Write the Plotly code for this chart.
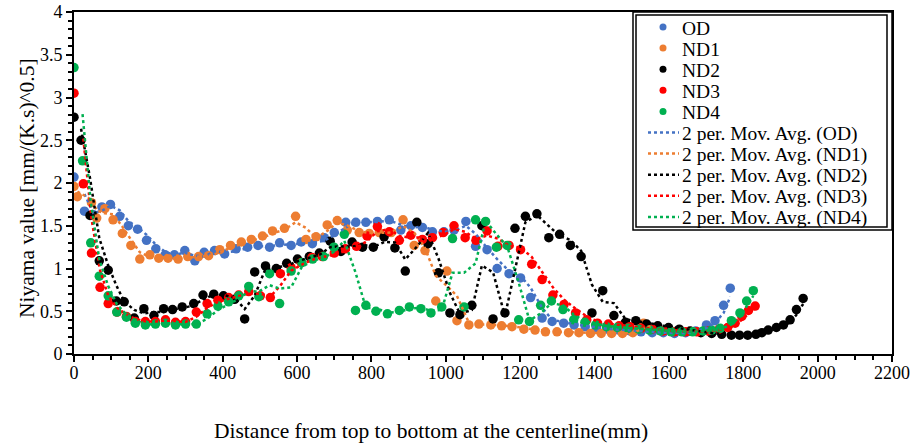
import plotly.graph_objects as go

# ---------------- data ----------------
od_x = [0, 28, 52, 75, 98, 123, 146, 171, 195, 220, 245, 270, 298, 325, 350, 378, 405, 436, 467, 495,
        526, 553, 584, 611, 641, 673, 700, 731, 758, 785, 816, 848, 879, 906, 937, 964, 995, 1022, 1054,
        1080, 1111, 1138, 1170, 1201, 1228, 1259, 1286, 1317, 1345, 1375, 1405, 1435, 1465, 1495, 1525,
        1555, 1585, 1615, 1645, 1672, 1701, 1724, 1747, 1765]
od_y = [2.07, 1.67, 1.63, 1.72, 1.75, 1.61, 1.50, 1.46, 1.33, 1.23, 1.16, 1.16, 1.21, 1.09, 1.19, 1.21,
        1.17, 1.23, 1.25, 1.27, 1.25, 1.30, 1.27, 1.31, 1.29, 1.36, 1.42, 1.54, 1.54, 1.54, 1.55, 1.57,
        1.45, 1.50, 1.48, 1.43, 1.43, 1.45, 1.55, 1.26, 1.22, 1.00, 0.94, 0.89, 0.66, 0.42, 0.38, 0.36,
        0.34, 0.32, 0.30, 0.29, 0.28, 0.27, 0.26, 0.25, 0.25, 0.24, 0.25, 0.27, 0.34, 0.39, 0.57, 0.77]

nd1_x = [0, 9, 47, 61, 83, 105, 130, 153, 177, 204, 228, 253, 280, 306, 335, 362, 392, 421, 450, 477,
         507, 534, 566, 596, 624, 651, 681, 708, 735, 767, 794, 821, 853, 885, 915, 944, 973, 1003, 1030,
         1062, 1089, 1121, 1150, 1178, 1210, 1240, 1268, 1299, 1330, 1358, 1389, 1418, 1446, 1475, 1503,
         1532, 1555]
nd1_y = [1.96, 1.84, 1.77, 1.59, 1.70, 1.57, 1.41, 1.27, 1.11, 1.16, 1.12, 1.12, 1.11, 1.14, 1.14, 1.15,
         1.22, 1.27, 1.31, 1.34, 1.38, 1.44, 1.47, 1.61, 1.34, 1.37, 1.51, 1.56, 1.45, 1.42, 1.41, 1.42,
         1.42, 1.57, 1.27, 1.21, 0.62, 0.97, 0.39, 0.34, 0.35, 0.34, 0.33, 0.32, 0.29, 0.28, 0.26, 0.26,
         0.25, 0.25, 0.24, 0.24, 0.24, 0.24, 0.25, 0.36, 0.30]

nd2_x = [0, 19, 43, 68, 92, 114, 135, 162, 188, 215, 241, 265, 291, 322, 347, 376, 402, 432, 459, 486,
         515, 544, 572, 601, 633, 660, 689, 718, 748, 776, 805, 834, 863, 891, 922, 952, 980, 1011, 1038,
         1070, 1097, 1127, 1159, 1186, 1214, 1245, 1277, 1306, 1335, 1364, 1393, 1422, 1452, 1483, 1511,
         1540, 1570, 1599, 1628, 1657, 1686, 1715, 1742, 1768, 1790, 1812, 1834, 1850, 1867, 1889, 1908,
         1926, 1943, 1961]
nd2_y = [2.77, 2.50, 1.62, 1.09, 0.98, 0.62, 0.61, 0.42, 0.53, 0.45, 0.53, 0.52, 0.55, 0.59, 0.69, 0.70,
         0.68, 0.64, 0.41, 0.96, 1.03, 1.00, 1.06, 1.11, 1.14, 1.18, 1.32, 1.20, 1.31, 1.25, 1.25, 1.37,
         1.24, 0.97, 1.54, 1.29, 0.95, 0.48, 0.46, 0.57, 1.50, 0.41, 0.48, 1.47, 1.61, 1.64, 1.36, 1.40,
         1.27, 1.14, 0.48, 0.74, 0.45, 0.37, 0.39, 0.35, 0.33, 0.31, 0.29, 0.27, 0.25, 0.24, 0.23, 0.22,
         0.22, 0.22, 0.23, 0.25, 0.28, 0.31, 0.34, 0.40, 0.52, 0.65]

nd3_x = [0, 25, 47, 70, 92, 116, 141, 165, 192, 219, 246, 273, 300, 329, 358, 387, 416, 443, 470, 501,
         528, 555, 584, 611, 640, 668, 700, 730, 760, 788, 816, 848, 875, 906, 937, 964, 993, 1022, 1052,
         1081, 1111, 1140, 1170, 1201, 1231, 1259, 1288, 1318, 1349, 1379, 1408, 1437, 1466, 1495, 1525,
         1555, 1585, 1615, 1645, 1675, 1705, 1735, 1758, 1778, 1796, 1814, 1832]
nd3_y = [3.05, 1.99, 1.18, 0.78, 0.59, 0.49, 0.44, 0.38, 0.38, 0.38, 0.40, 0.37, 0.38, 0.49, 0.59, 0.63,
         0.66, 0.69, 0.73, 0.68, 0.66, 0.94, 1.01, 1.07, 1.13, 1.14, 1.18, 1.23, 1.26, 1.38, 1.49, 1.43,
         1.33, 1.39, 1.34, 1.36, 1.42, 1.50, 1.36, 1.33, 1.44, 1.26, 1.27, 1.22, 1.05, 0.87, 0.69, 0.58,
         0.48, 0.40, 0.36, 0.35, 0.33, 0.32, 0.30, 0.29, 0.27, 0.26, 0.26, 0.26, 0.27, 0.29, 0.31, 0.36,
         0.44, 0.51, 0.56]

nd4_x = [0, 23, 45, 68, 92, 115, 141, 165, 192, 219, 246, 273, 300, 329, 358, 387, 416, 443, 470, 497,
         526, 553, 584, 613, 642, 671, 699, 727, 757, 785, 812, 843, 875, 902, 933, 960, 989, 1018, 1049,
         1080, 1107, 1136, 1165, 1196, 1225, 1255, 1284, 1315, 1344, 1374, 1403, 1432, 1461, 1490, 1519,
         1548, 1577, 1606, 1635, 1664, 1692, 1715, 1738, 1768, 1791, 1809, 1827]
nd4_y = [3.35, 2.26, 1.30, 0.91, 0.68, 0.49, 0.43, 0.36, 0.34, 0.35, 0.36, 0.34, 0.35, 0.35, 0.47, 0.56,
         0.61, 0.68, 0.79, 0.67, 0.94, 0.59, 0.97, 1.07, 1.11, 1.14, 1.25, 1.40, 0.51, 0.57, 0.50, 0.47,
         0.51, 0.55, 0.53, 0.48, 0.55, 1.35, 0.55, 1.57, 1.55, 1.25, 1.27, 0.40, 0.38, 0.57, 0.62, 0.52,
         0.40, 0.37, 0.34, 0.32, 0.31, 0.30, 0.29, 0.28, 0.27, 0.26, 0.26, 0.26, 0.27, 0.28, 0.30, 0.39,
         0.48, 0.62, 0.74]

series_names = ["OD", "ND1", "ND2", "ND3", "ND4"]
series_colors = ["#4472C4", "#ED7D31", "#000000", "#FF0000", "#00B050"]
xs = [od_x, nd1_x, nd2_x, nd3_x, nd4_x]
ys = [od_y, nd1_y, nd2_y, nd3_y, nd4_y]

x_ticks = list(range(0, 2201, 200))
y_ticks = [0, 0.5, 1, 1.5, 2, 2.5, 3, 3.5, 4]
y_tick_text = ["0", "0.5", "1", "1.5", "2", "2.5", "3", "3.5", "4"]

# ---------------- layout constants ----------------
W, H = 912, 447
L, R, T, B = 74, 20, 12, 93
PW, PH = W - L - R, H - T - B
FONT = "Liberation Serif"


def px_x(p):
    return (p - L) / PW


def px_y(p):
    return (H - B - p) / PH


fig = go.Figure()

for name, col, x, y in zip(series_names, series_colors, xs, ys):
    fig.add_trace(go.Scatter(x=x, y=y, mode="markers", name=name,
                             marker=dict(color=col, size=9.5, line=dict(width=0)),
                             showlegend=False))

for name, col, x, y in zip(series_names, series_colors, xs, ys):
    ma_x = x[1:]
    ma_y = [(y[i - 1] + y[i]) / 2 for i in range(1, len(y))]
    fig.add_trace(go.Scatter(x=ma_x, y=ma_y, mode="lines",
                             name="2 per. Mov. Avg. (%s)" % name,
                             line=dict(color=col, width=2.5, dash="dot"),
                             showlegend=False))

# ---------------- manual legend ----------------
shapes = []
annotations = []
shapes.append(dict(type="rect", xref="paper", yref="paper",
                   x0=px_x(633), x1=px_x(892), y0=px_y(230), y1=px_y(12),
                   line=dict(color="black", width=1.5), fillcolor="white", layer="above"))
shapes.append(dict(type="rect", xref="paper", yref="paper",
                   x0=px_x(636), x1=px_x(887), y0=px_y(227), y1=px_y(15),
                   line=dict(color="black", width=1.5), layer="above"))

legend_labels = series_names + ["2 per. Mov. Avg. (%s)" % n for n in series_names]
row0, row_gap = 27, 21.1
for i, lab in enumerate(legend_labels):
    yc = row0 + i * row_gap
    col = series_colors[i % 5]
    if i < 5:
        shapes.append(dict(type="circle", xref="paper", yref="paper",
                           xsizemode="pixel", ysizemode="pixel",
                           xanchor=px_x(663), yanchor=px_y(yc),
                           x0=-3.5, x1=3.5, y0=-3.5, y1=3.5,
                           fillcolor=col, line=dict(width=0), layer="above"))
    else:
        shapes.append(dict(type="line", xref="paper", yref="paper",
                           x0=px_x(648), x1=px_x(679), y0=px_y(yc), y1=px_y(yc),
                           line=dict(color=col, width=2.5, dash="dot"), layer="above"))
    annotations.append(dict(text=lab, xref="paper", yref="paper",
                            x=px_x(680), y=px_y(yc + 1), xanchor="left", yanchor="middle",
                            showarrow=False, font=dict(family=FONT, size=19.5, color="black")))

annotations.append(dict(text="Distance from top to bottom at the centerline(mm)",
                        xref="paper", yref="paper", x=px_x(431), y=px_y(431),
                        xanchor="center", yanchor="middle", showarrow=False,
                        font=dict(family=FONT, size=21.5, color="black")))
annotations.append(dict(text="Niyama value [mm/(K.s)^0.5]",
                        xref="paper", yref="paper", x=px_x(27), y=px_y(188),
                        xanchor="center", yanchor="middle", textangle=-90, showarrow=False,
                        font=dict(family=FONT, size=21.5, color="black")))

fig.update_layout(
    width=W, height=H,
    margin=dict(l=L, r=R, t=T, b=B, autoexpand=False),
    paper_bgcolor="white", plot_bgcolor="white",
    font=dict(family=FONT, size=18, color="black"),
    showlegend=False,
    shapes=shapes, annotations=annotations,
)
axis_common = dict(showgrid=False, zeroline=False, showline=True, linecolor="black", linewidth=2,
                   mirror=True, ticks="outside", ticklen=6, tickwidth=1.5, tickcolor="black",
                   automargin=False, tickfont=dict(family=FONT, size=18, color="black"))
fig.update_xaxes(range=[0, 2200], tickvals=x_ticks, ticktext=[str(v) for v in x_ticks],
                 ticklabelstandoff=-5,
                 minor=dict(dtick=50, ticks="outside", ticklen=4, tickwidth=1.5, tickcolor="black"),
                 **axis_common)
fig.update_yaxes(range=[0, 4], tickvals=y_ticks, ticktext=y_tick_text,
                 minor=dict(dtick=0.1, ticks="outside", ticklen=4, tickwidth=1.5, tickcolor="black"),
                 **axis_common)

fig.write_html("out.html")
